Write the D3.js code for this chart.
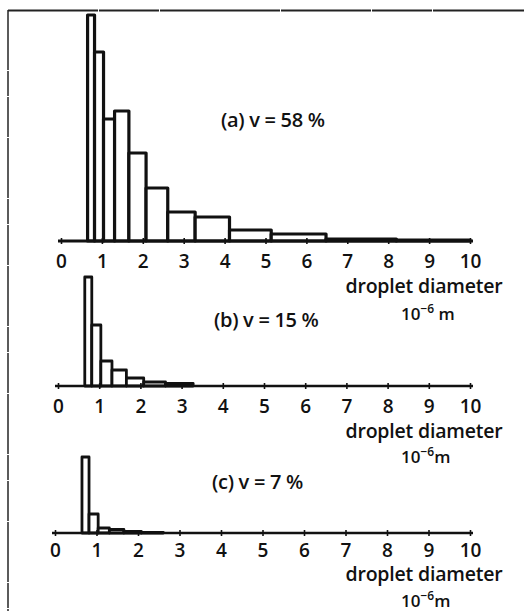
<!DOCTYPE html>
<html>
<head>
<meta charset="utf-8">
<script src="https://cdn.jsdelivr.net/npm/d3@7/dist/d3.min.js"></script>
<style>
  body { margin: 0; background: #fff; }
  text { font-family: "Open Sans", "Lato", sans-serif; fill: #111; font-weight: 600; }
</style>
</head>
<body>
<div id="chart"></div>
<script>
// bin edges of the droplet size classes (10^-6 m)
var binEdges = [0.65, 0.82, 1.04, 1.31, 1.66, 2.08, 2.61, 3.28, 4.12, 5.14, 6.48, 8.2, 10.0];

// relative number of droplets per class
var freqA = [226, 189, 122, 130, 88, 53, 29, 24, 11, 7, 2, 1];
var freqB = [109, 61, 25, 16, 8, 4, 2.5, 0, 0, 0, 0, 0];
var freqC = [76, 19, 5, 3.5, 1.5, 0.5, 0, 0, 0, 0, 0, 0];

var tickValues = [0, 1, 2, 3, 4, 5, 6, 7, 8, 9, 10];
var panelTitles = ["(a) v = 58 %", "(b) v = 15 %", "(c) v = 7 %"];
var axisTitle = "droplet diameter";

var W = 524, H = 611;

// layout per panel (scan is slightly skewed, so x0 drifts a little)
var panels = [
    {freq: freqA, base: 241, x0: 61, tx: 221, ty: 127, ly: 27, ay: 52, uy: 79},
    {freq: freqB, base: 386, x0: 58, tx: 214, ty: 327, ly: 27, ay: 52, uy: 77},
    {freq: freqC, base: 533, x0: 55, tx: 212, ty: 489, ly: 24, ay: 48, uy: 74}
];

var svg = d3.select("#chart").append("svg")
    .attr("width", W)
    .attr("height", H);

// scanned page frame (left and top edges)
svg.append("line")
    .attr("x1", 8).attr("x2", 8).attr("y1", 10).attr("y2", H)
    .attr("stroke", "#333").attr("stroke-width", 1.6)
    .attr("stroke-dasharray", "60,1,25,1,40,1");
svg.append("line")
    .attr("x1", 8).attr("x2", W).attr("y1", 10.5).attr("y2", 10.5)
    .attr("stroke", "#222").attr("stroke-width", 2)
    .attr("stroke-dasharray", "90,1,60,1,120,1");

var y = d3.scaleLinear().domain([0, 230]).range([0, 230]);

panels.forEach(function (p, i) {
    var x = d3.scaleLinear().domain([0, 10]).range([p.x0, 470]);
    var g = svg.append("g");

    var bins = p.freq.map(function (v, k) {
        return {x0: binEdges[k], x1: binEdges[k + 1], v: v};
    }).filter(function (d) { return d.v > 0; });

    g.selectAll("rect.bar")
        .data(bins)
        .enter().append("rect")
        .attr("class", "bar")
        .attr("x", function (d) { return x(d.x0); })
        .attr("width", function (d) { return x(d.x1) - x(d.x0); })
        .attr("y", function (d) { return p.base - y(d.v); })
        .attr("height", function (d) { return y(d.v); })
        .attr("fill", "#fff")
        .attr("stroke", "#111")
        .attr("stroke-width", i === 0 ? 3.2 : 2.8)
        .attr("stroke-linejoin", "round");

    // axis with small ticks crossing the line
    var axis = d3.axisBottom(x)
        .tickValues(tickValues)
        .tickSize(0)
        .tickFormat(d3.format("d"));
    var ag = g.append("g")
        .attr("transform", "translate(0," + p.base + ")")
        .call(axis);
    ag.select(".domain").remove();
    ag.append("line")
        .attr("x1", x(0) - 3).attr("x2", x(10) + 3)
        .attr("stroke", "#111").attr("stroke-width", i === 0 ? 3 : 2.4);
    ag.selectAll(".tick").append("line")
        .attr("y1", -3).attr("y2", 3)
        .attr("stroke", "#111").attr("stroke-width", 1.6);
    ag.selectAll(".tick text")
        .attr("y", p.ly)
        .attr("dy", 0)
        .style("font-size", "19px")
        .style("font-family", "'Open Sans', Lato, sans-serif")
        .style("font-weight", "600")
        .attr("fill", "#111");

    g.append("text")
        .attr("x", 424)
        .attr("y", p.base + p.ay)
        .attr("text-anchor", "middle")
        .style("font-size", "19.5px")
        .style("letter-spacing", "-0.2px")
        .text(axisTitle);

    var u = g.append("text")
        .attr("x", 401)
        .attr("y", p.base + p.uy)
        .style("font-size", "17px");
    u.append("tspan").text("10");
    u.append("tspan").attr("dy", -7).style("font-size", "12px").text("\u22126");
    u.append("tspan").attr("dy", 7).text(i === 0 ? " m" : "m");

    g.append("text")
        .attr("x", p.tx)
        .attr("y", p.ty)
        .style("font-size", "20px")
        .style("letter-spacing", "-0.3px")
        .text(panelTitles[i]);
});
</script>
</body>
</html>
